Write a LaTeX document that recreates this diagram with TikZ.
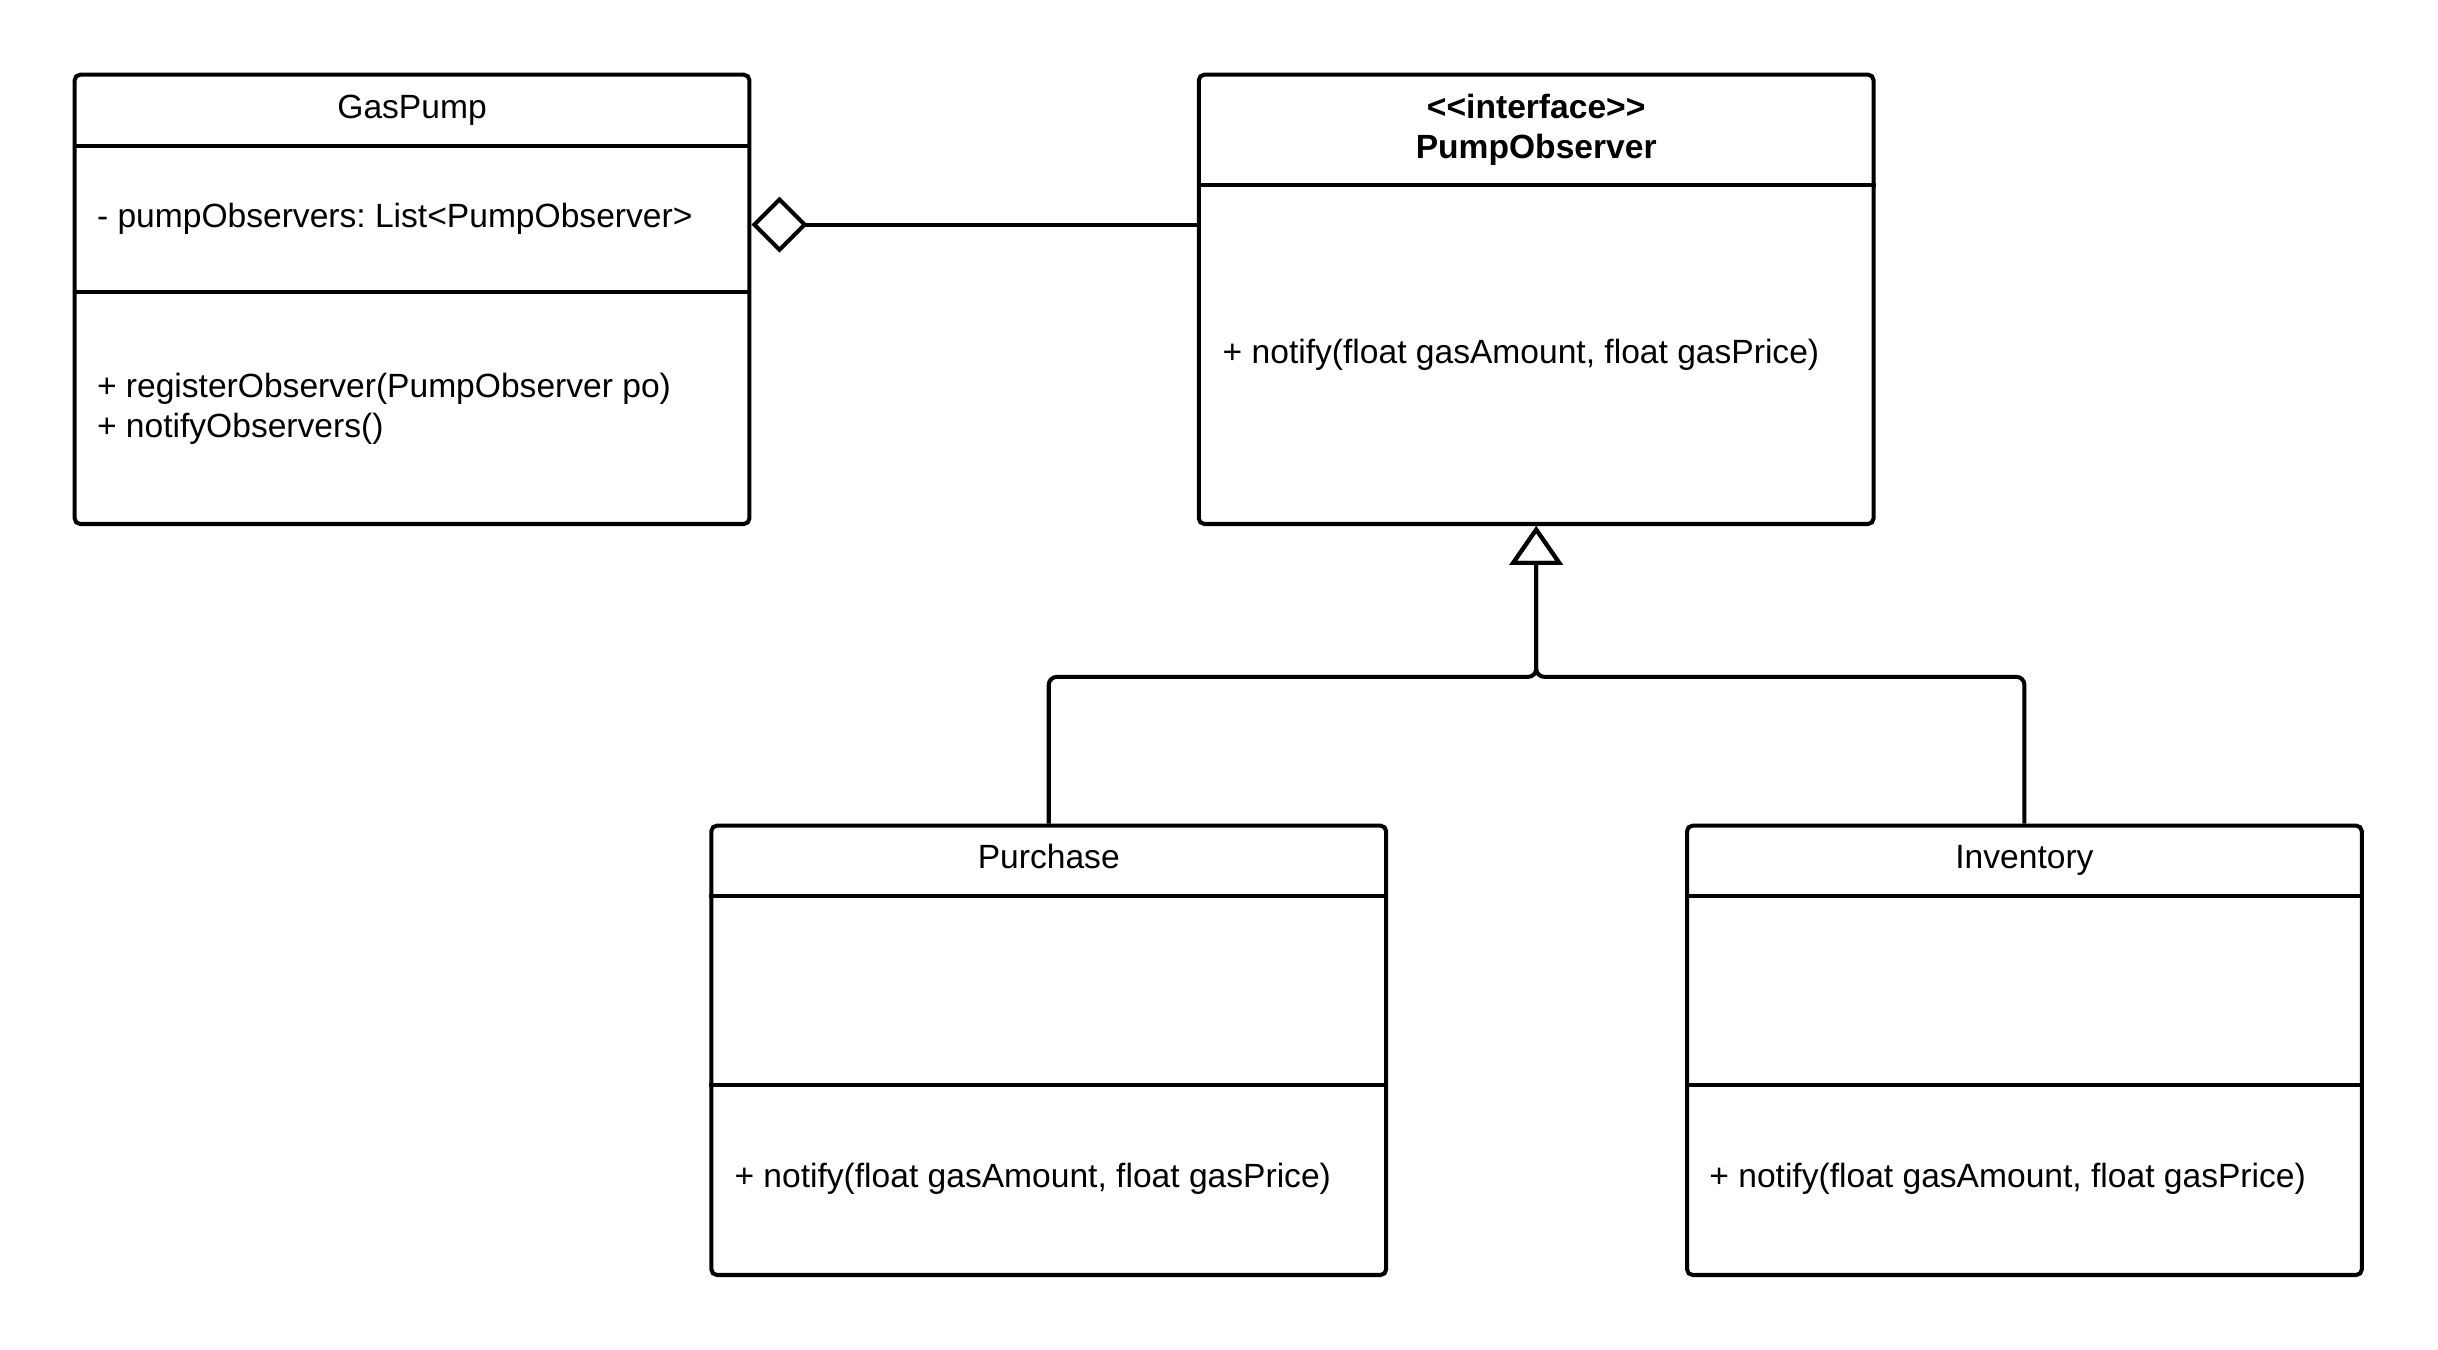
\documentclass[tikz,border=0pt]{standalone}
\usepackage{fontspec}
\setmainfont{Liberation Sans}
\usetikzlibrary{arrows.meta,calc}
\frenchspacing

\tikzset{
  classbox/.style={draw,line width=1.3pt,rounded corners=1.8pt,minimum width=217pt,minimum height=144.5pt,inner sep=0pt},
  sepline/.style={line width=1.3pt},
  title/.style={anchor=base,inner sep=0pt},
  member/.style={anchor=base west,inner sep=0pt},
  aggr/.style={line width=1.3pt,{Diamond[open,length=18pt,width=18pt]}-},
  inherit/.style={line width=1.3pt,rounded corners=2.6pt,-{Triangle[open,length=12.5pt,width=17pt]}}
}

\begin{document}
\begin{tikzpicture}[x=0.5pt,y=-0.5pt,font=\fontsize{10.8}{13}\selectfont]
\useasboundingbox (0,0) rectangle (1568,868.2);

\node[classbox] (gaspump) at (265,192.5) {};
\node[classbox] (pumpobs) at (988,192.5) {};
\node[classbox] (purchase) at (674.5,675.5) {};
\node[classbox] (inventory) at (1302,675.5) {};

\foreach \n/\y in {gaspump/94,gaspump/188,pumpobs/119,purchase/576,purchase/698,inventory/576,inventory/698}
  \draw[sepline] (\n.west |- 0,\y) -- (\n.east |- 0,\y);

\node[title] (gaspumpname) at (265,76.5) {GasPump};
\node[member] (gaspumpattr) at (62,146) {- pumpObservers: List<PumpObserver>};
\node[member] (gaspumpreg) at (62,255.5) {+ registerObserver(PumpObserver po)};
\node[member] (gaspumpnotify) at (62,281.5) {+ notifyObservers()};

\node[title] (pumpobsstereo) at (988,76) {\bfseries <\kern0pt<interface>\kern0pt>};
\node[title] (pumpobsname) at (988,102) {\bfseries PumpObserver};
\node[member] (pumpobsnotify) at (786,233.5) {+ notify(float gasAmount, float gasPrice)};

\node[title] (purchasename) at (674.5,558.5) {Purchase};
\node[member] (purchasenotify) at (472,764) {+ notify(float gasAmount, float gasPrice)};

\node[title] (inventoryname) at (1302,558.5) {Inventory};
\node[member] (inventorynotify) at (1099,764) {+ notify(float gasAmount, float gasPrice)};

\draw[aggr] ([yshift=24pt]gaspump.east) -- ([yshift=24pt]gaspump.east -| pumpobs.west);

\coordinate (fork) at ([yshift=-48.5pt]pumpobs.south);
\draw[inherit] (purchase.north) |- (fork) -- (pumpobs.south);
\draw[inherit] (inventory.north) |- (fork) -- (pumpobs.south);

\end{tikzpicture}
\end{document}
